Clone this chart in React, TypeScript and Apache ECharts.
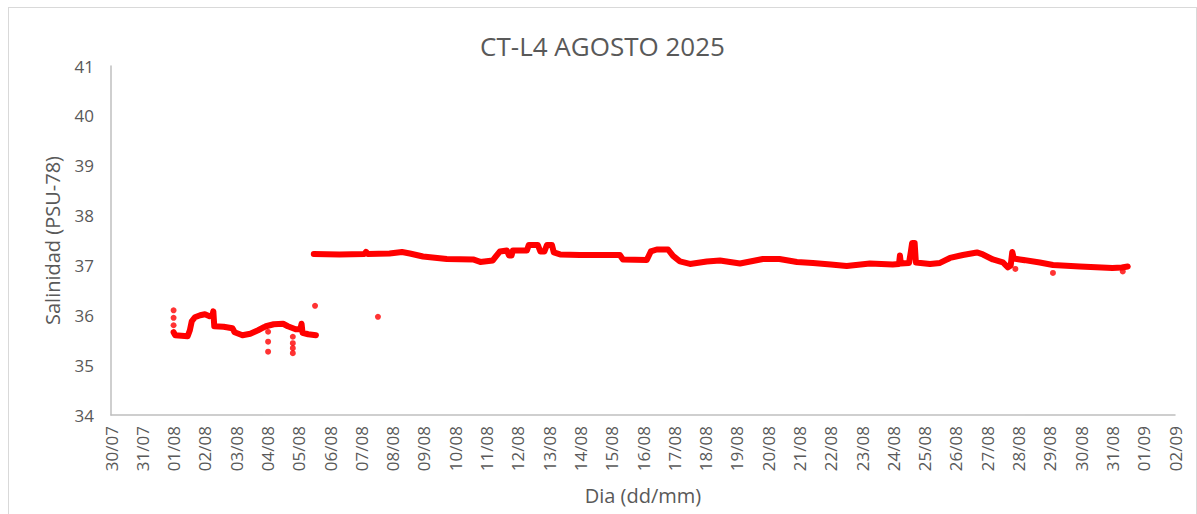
import React, { useEffect, useRef } from "react";
import * as echarts from "echarts";

// x values are days of August 2025 (1 = 01/08 00:00); 31/07 = 0, 30/07 = -1
const tickLabels = [
  "30/07", "31/07", "01/08", "02/08", "03/08", "04/08", "05/08", "06/08", "07/08",
  "08/08", "09/08", "10/08", "11/08", "12/08", "13/08", "14/08", "15/08", "16/08",
  "17/08", "18/08", "19/08", "20/08", "21/08", "22/08", "23/08", "24/08", "25/08",
  "26/08", "27/08", "28/08", "29/08", "30/08", "31/08", "01/09", "02/09",
];

const firstSegment: [number, number][] = [
  [1.0, 35.66], [1.05, 35.6], [1.45, 35.58], [1.52, 35.7], [1.58, 35.88], [1.68, 35.96],
  [1.85, 36.0], [2.0, 36.02], [2.15, 35.98], [2.24, 36.0], [2.27, 36.08], [2.3, 35.78],
  [2.6, 35.77], [2.88, 35.74], [2.95, 35.66], [3.2, 35.6], [3.45, 35.63], [3.7, 35.7],
  [3.95, 35.78], [4.2, 35.82], [4.5, 35.83], [4.65, 35.78], [4.9, 35.72], [5.05, 35.72],
  [5.09, 35.83], [5.12, 35.65], [5.3, 35.62], [5.55, 35.6],
];

const secondSegment: [number, number][] = [
  [5.48, 37.23], [6.3, 37.22], [7.1, 37.23], [7.15, 37.27], [7.2, 37.23], [7.9, 37.24],
  [8.3, 37.27], [8.55, 37.24], [8.97, 37.18], [9.73, 37.13], [10.57, 37.12], [10.8, 37.07],
  [11.2, 37.1], [11.3, 37.18], [11.43, 37.28], [11.65, 37.3], [11.72, 37.2], [11.8, 37.2],
  [11.84, 37.3], [12.29, 37.3], [12.35, 37.41], [12.64, 37.41], [12.72, 37.28], [12.85, 37.28],
  [12.93, 37.41], [13.09, 37.41], [13.15, 37.26], [13.35, 37.22], [13.98, 37.21], [15.26, 37.21],
  [15.36, 37.12], [16.12, 37.11], [16.25, 37.28], [16.44, 37.32], [16.8, 37.32], [16.96, 37.19],
  [17.18, 37.08], [17.5, 37.03], [18.04, 37.08], [18.46, 37.1], [19.1, 37.04], [19.83, 37.13],
  [20.36, 37.13], [20.92, 37.07], [21.43, 37.05], [22.0, 37.02], [22.51, 36.99], [23.25, 37.04],
  [23.98, 37.02], [24.18, 37.03], [24.21, 37.2], [24.24, 37.04], [24.5, 37.05], [24.56, 37.28],
  [24.6, 37.45], [24.68, 37.45], [24.72, 37.06], [25.17, 37.03], [25.49, 37.05], [25.81, 37.15],
  [26.22, 37.21], [26.67, 37.26], [26.86, 37.22], [27.18, 37.12], [27.5, 37.06], [27.66, 36.96],
  [27.75, 37.0], [27.8, 37.27], [27.85, 37.14], [28.04, 37.12], [28.68, 37.06], [29.1, 37.01],
  [29.96, 36.98], [31.0, 36.95], [31.3, 36.96], [31.49, 36.98],
];

const isolatedPoints: [number, number][] = [
  [1.0, 36.1], [1.0, 35.95], [1.0, 35.8],
  [4.02, 35.67], [4.02, 35.47], [4.02, 35.27],
  [4.81, 35.57], [4.81, 35.44], [4.81, 35.34], [4.81, 35.24],
  [5.52, 36.19], [7.53, 35.97],
  [27.9, 36.93], [29.1, 36.85], [31.33, 36.88],
];

const FONT = "'Open Sans', 'Noto Sans', sans-serif";
const TEXT = "#595959";
const RED = "#ff0000";

export default function App() {
  const ref = useRef<HTMLDivElement>(null);
  useEffect(() => {
    if (!ref.current) return;
    const chart = echarts.init(ref.current, null, { renderer: "svg" });
    chart.setOption({
      animation: false,
      backgroundColor: "#ffffff",
      textStyle: { fontFamily: FONT, color: TEXT },
      title: {
        text: "CT-L4 AGOSTO 2025",
        left: "center",
        top: 20,
        textStyle: { fontFamily: FONT, fontSize: 26, fontWeight: "normal", color: TEXT },
      },
      grid: { left: 102, top: 58, right: 21, bottom: 111, containLabel: false },
      xAxis: {
        type: "value",
        min: -1,
        max: 33,
        interval: 1,
        name: "Dia (dd/mm)",
        nameLocation: "middle",
        nameGap: 70,
        nameTextStyle: { fontFamily: FONT, fontSize: 20, color: TEXT },
        axisLine: { show: true, onZero: false, lineStyle: { color: "#bfbfbf", width: 1.5 } },
        axisTick: { show: false },
        splitLine: { show: false },
        axisLabel: {
          rotate: 90,
          margin: 11,
          fontFamily: FONT,
          fontSize: 17,
          color: TEXT,
          formatter: (v: number) => tickLabels[Math.round(v) + 1] ?? "",
        },
      },
      yAxis: {
        type: "value",
        min: 34,
        max: 41,
        interval: 1,
        name: "Salinidad (PSU-78)",
        nameLocation: "middle",
        nameGap: 49,
        nameTextStyle: { fontFamily: FONT, fontSize: 20, color: TEXT },
        axisLine: { show: true, onZero: false, lineStyle: { color: "#bfbfbf", width: 1.5 } },
        axisTick: { show: false },
        splitLine: { show: false },
        axisLabel: { margin: 17, fontFamily: FONT, fontSize: 17, color: TEXT },
      },
      series: [
        {
          type: "line",
          data: firstSegment,
          showSymbol: false,
          symbol: "none",
          lineStyle: { color: RED, width: 6, join: "round", cap: "round" },
        },
        {
          type: "line",
          data: secondSegment,
          showSymbol: false,
          symbol: "none",
          lineStyle: { color: RED, width: 6, join: "round", cap: "round" },
        },
        {
          type: "scatter",
          data: isolatedPoints,
          symbol: "circle",
          symbolSize: 6,
          itemStyle: { color: RED },
        },
      ],
    });
    return () => chart.dispose();
  }, []);
  return (
    <div
      style={{
        position: "fixed",
        left: 8,
        top: 7,
        width: 1189,
        height: 520,
        boxSizing: "border-box",
        border: "1px solid #d9d9d9",
        background: "#fff",
      }}
    >
      <div ref={ref} style={{ width: 1187, height: 518 }} />
    </div>
  );
}
